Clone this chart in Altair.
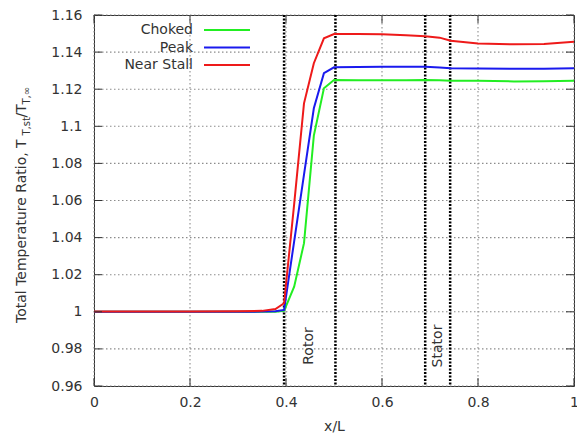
import altair as alt
import pandas as pd

# ---------------- data ----------------
x_pos = [0.0, 0.1, 0.2, 0.3, 0.35, 0.378, 0.396, 0.417, 0.4375, 0.458, 0.479, 0.5,
         0.55, 0.6, 0.65, 0.69, 0.72, 0.743, 0.8, 0.875, 0.9375, 1.0]
choked = [1.0, 1.0, 1.0, 1.0, 1.0, 1.0, 1.0005, 1.0135, 1.037, 1.095, 1.1205, 1.125,
          1.1248, 1.1248, 1.1248, 1.125, 1.1248, 1.1245, 1.1245, 1.1242, 1.1243, 1.1245]
peak = [1.0, 1.0, 1.0, 1.0, 1.0001, 1.0003, 1.001, 1.038, 1.074, 1.1097, 1.1286, 1.1318,
        1.132, 1.1321, 1.1321, 1.1321, 1.1317, 1.1313, 1.1312, 1.131, 1.131, 1.1313]
near_stall = [1.0002, 1.0002, 1.0002, 1.0003, 1.0005, 1.0015, 1.0046, 1.058, 1.1124, 1.134,
              1.1474, 1.1497, 1.1497, 1.1496, 1.1491, 1.1486, 1.1478, 1.1461, 1.1447,
              1.1442, 1.1444, 1.1456]
series_names = ["Choked", "Peak", "Near Stall"]
series_colors = ["#22ee22", "#1a1aee", "#ee1a1a"]
station_x = [0.396, 0.503, 0.690, 0.742]
x_ticks = [0, 0.2, 0.4, 0.6, 0.8, 1.0]
y_ticks = [0.96, 0.98, 1.0, 1.02, 1.04, 1.06, 1.08, 1.1, 1.12, 1.14, 1.16]

FONT = "DejaVu Sans"
TXT = "#333333"
W, H = 480, 371

xscale = alt.Scale(domain=[0, 1], nice=False, zero=False)
yscale = alt.Scale(domain=[0.96, 1.16], nice=False, zero=False)

xaxis = alt.Axis(values=x_ticks, format="~g", title="x/L", grid=False, ticks=False,
                 domain=False, labelPadding=9, titlePadding=10, labelFlush=False,
                 labelOverlap=False, tickCount=6)
yaxis = alt.Axis(values=y_ticks, format="~g", title=None, grid=False, ticks=False,
                 domain=False, labelPadding=12, labelOverlap=False, labelFlush=False,
                 tickCount=11)

X = alt.X("x:Q", scale=xscale, axis=xaxis)
Y = alt.Y("y:Q", scale=yscale, axis=yaxis)

series_data = [choked, peak, near_stall]
layers = []

xt = pd.DataFrame({"x": x_ticks})
yt = pd.DataFrame({"y": y_ticks})

# dotted grid
grid_style = dict(color="#8c8c8c", strokeWidth=1.1, strokeDash=[1.5, 2.5], opacity=1)
layers.append(alt.Chart(xt).mark_rule(**grid_style).encode(
    x=X, y=alt.value(0), y2=alt.value(H)))
layers.append(alt.Chart(yt).mark_rule(**grid_style).encode(
    y=Y, x=alt.value(0), x2=alt.value(W)))

# vertical station lines
vdf = pd.DataFrame({"x": station_x})
layers.append(
    alt.Chart(vdf).mark_rule(color="black", strokeDash=[2, 1.5], strokeWidth=2.5)
    .encode(x=X, y=alt.value(0), y2=alt.value(H))
)

# curves
for name, vals, col in zip(series_names, series_data, series_colors):
    df = pd.DataFrame({"x": x_pos, "y": vals, "series": name})
    layers.append(
        alt.Chart(df).mark_line(color=col, strokeWidth=2).encode(x=X, y=Y)
    )

# inward ticks (mirrored)
tick_style = dict(color="#333333", strokeWidth=1)
layers.append(alt.Chart(xt).mark_rule(**tick_style).encode(
    x=X, y=alt.value(H), y2=alt.value(H - 8)))
layers.append(alt.Chart(xt).mark_rule(**tick_style).encode(
    x=X, y=alt.value(0), y2=alt.value(8)))
layers.append(alt.Chart(yt).mark_rule(**tick_style).encode(
    y=Y, x=alt.value(0), x2=alt.value(8)))
layers.append(alt.Chart(yt).mark_rule(**tick_style).encode(
    y=Y, x=alt.value(W - 8), x2=alt.value(W)))

# legend (inside plot, gnuplot style)
leg_y = [15, 32.5, 50]
for name, col, yy in zip(series_names, series_colors, leg_y):
    layers.append(alt.Chart(pd.DataFrame({"t": [name]})).mark_text(
        align="right", baseline="middle", font=FONT, fontSize=14, color=TXT)
        .encode(text="t:N", x=alt.value(99), y=alt.value(yy)))
    layers.append(alt.Chart(pd.DataFrame({"t": [name]})).mark_rule(color=col, strokeWidth=2)
        .encode(x=alt.value(110), x2=alt.value(156), y=alt.value(yy)))

# Rotor / Stator labels
for lab, xx in [("Rotor", 215), ("Stator", 344)]:
    layers.append(alt.Chart(pd.DataFrame({"t": [lab]})).mark_text(
        angle=270, align="center", baseline="middle", font=FONT, fontSize=14, color=TXT)
        .encode(text="t:N", x=alt.value(xx), y=alt.value(331)))

# y-axis title with subscripts
title_parts = [
    ("Total Temperature Ratio, T", 14, -68, 308),
    ("T,st", 10, -64.5, 120.5),
    ("/T", 14, -68, 102.5),
    ("T,\u221e", 10, -64.5, 89.5),
]
for txt, fs, xx, yy in title_parts:
    layers.append(alt.Chart(pd.DataFrame({"t": [txt]})).mark_text(
        angle=270, align="left", baseline="alphabetic", font=FONT, fontSize=fs, color=TXT)
        .encode(text="t:N", x=alt.value(xx), y=alt.value(yy)))

chart = alt.layer(*layers).properties(
    width=W, height=H,
    autosize=alt.AutoSizeParams(type="none"),
    padding={"left": 94, "top": 15, "right": 3, "bottom": 56},
    background="white",
).configure_view(
    stroke="#333333", strokeWidth=1
).configure_axis(
    labelFont=FONT, labelFontSize=14, labelColor=TXT,
    titleFont=FONT, titleFontSize=14, titleColor=TXT, titleFontWeight="normal",
)

chart.save("out.html", embed_options={"renderer": "svg", "actions": False})
